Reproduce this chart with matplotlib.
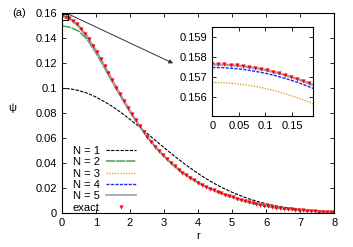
import matplotlib
matplotlib.use("Agg")
import matplotlib.pyplot as plt
from matplotlib.ticker import FuncFormatter
from matplotlib.lines import Line2D
from matplotlib.patches import Rectangle

plt.rcParams['font.family'] = ['Liberation Sans', 'DejaVu Sans']

# ---------------- data ----------------
r_line = [0.0, 0.25, 0.5, 0.75, 1.0, 1.25, 1.5, 1.75, 2.0, 2.25, 2.5, 2.75, 3.0,
          3.25, 3.5, 3.75, 4.0, 4.25, 4.5, 4.75, 5.0, 5.25, 5.5, 5.75, 6.0,
          6.25, 6.5, 6.75, 7.0, 7.25, 7.5, 7.75, 8.0]

psi_N1 = [0.1000, 0.0996, 0.0982, 0.0961, 0.0931, 0.0894, 0.0852, 0.0804, 0.0752,
          0.0697, 0.0640, 0.0583, 0.0526, 0.0470, 0.0417, 0.0366, 0.0319, 0.0275,
          0.0235, 0.0200, 0.0168, 0.0140, 0.0115, 0.0094, 0.0076, 0.0061, 0.0049,
          0.0039, 0.0030, 0.0023, 0.0018, 0.0014, 0.0010]

psi_N2 = [0.1500, 0.1488, 0.1458, 0.1390, 0.1285, 0.1165, 0.1042, 0.0925, 0.0812,
          0.0710, 0.0615, 0.0530, 0.0456, 0.0392, 0.0335, 0.0287, 0.0245, 0.0209,
          0.0179, 0.0153, 0.0130, 0.0108, 0.0088, 0.0072, 0.0059, 0.0047, 0.0038,
          0.0031, 0.0025, 0.0020, 0.0015, 0.0011, 0.0008]

psi_N3 = [0.1567, 0.1548, 0.1492, 0.1406, 0.1299, 0.1179, 0.1055, 0.0934, 0.0818,
          0.0712, 0.0616, 0.0531, 0.0456, 0.0392, 0.0335, 0.0287, 0.0245, 0.0209,
          0.0179, 0.0153, 0.0130, 0.0108, 0.0088, 0.0072, 0.0059, 0.0047, 0.0038,
          0.0031, 0.0025, 0.0020, 0.0015, 0.0011, 0.0008]

psi_N4 = [0.1575, 0.1555, 0.1498, 0.1411, 0.1302, 0.1181, 0.1056, 0.0934, 0.0818,
          0.0712, 0.0616, 0.0531, 0.0456, 0.0392, 0.0335, 0.0287, 0.0245, 0.0209,
          0.0179, 0.0153, 0.0130, 0.0108, 0.0088, 0.0072, 0.0059, 0.0047, 0.0038,
          0.0031, 0.0025, 0.0020, 0.0015, 0.0011, 0.0008]

psi_N5 = [0.1576, 0.1556, 0.1499, 0.1412, 0.1303, 0.1181, 0.1056, 0.0934, 0.0818,
          0.0712, 0.0616, 0.0531, 0.0456, 0.0392, 0.0335, 0.0287, 0.0245, 0.0209,
          0.0179, 0.0153, 0.0130, 0.0108, 0.0088, 0.0072, 0.0059, 0.0047, 0.0038,
          0.0031, 0.0025, 0.0020, 0.0015, 0.0011, 0.0008]

r_exact = [0.0000, 0.1143, 0.2286, 0.3429, 0.4571, 0.5714, 0.6857, 0.8000, 0.9143,
           1.0286, 1.1429, 1.2571, 1.3714, 1.4857, 1.6000, 1.7143, 1.8286, 1.9429,
           2.0571, 2.1714, 2.2857, 2.4000, 2.5143, 2.6286, 2.7429, 2.8571, 2.9714,
           3.0857, 3.2000, 3.3143, 3.4286, 3.5429, 3.6571, 3.7714, 3.8857, 4.0000,
           4.1143, 4.2286, 4.3429, 4.4571, 4.5714, 4.6857, 4.8000, 4.9143, 5.0286,
           5.1429, 5.2571, 5.3714, 5.4857, 5.6000, 5.7143, 5.8286, 5.9429, 6.0571,
           6.1714, 6.2857, 6.4000, 6.5143, 6.6286, 6.7429, 6.8571, 6.9714, 7.0857,
           7.2000, 7.3143, 7.4286, 7.5429, 7.6571, 7.7714, 7.8857, 8.0000]

psi_exact = [0.1576, 0.1572, 0.1560, 0.1539, 0.1512, 0.1477, 0.1437, 0.1391, 0.1342,
             0.1289, 0.1234, 0.1178, 0.1121, 0.1063, 0.1006, 0.0951, 0.0896, 0.0843,
             0.0793, 0.0744, 0.0697, 0.0653, 0.0611, 0.0571, 0.0533, 0.0498, 0.0464,
             0.0433, 0.0404, 0.0376, 0.0350, 0.0326, 0.0304, 0.0283, 0.0263, 0.0245,
             0.0228, 0.0212, 0.0197, 0.0184, 0.0171, 0.0159, 0.0148, 0.0138, 0.0128,
             0.0118, 0.0107, 0.0098, 0.0089, 0.0081, 0.0074, 0.0067, 0.0061, 0.0056,
             0.0051, 0.0046, 0.0042, 0.0038, 0.0034, 0.0031, 0.0028, 0.0025, 0.0023,
             0.0021, 0.0018, 0.0016, 0.0014, 0.0012, 0.0011, 0.0009, 0.0008]

# inset data
r_in_line = [0.0, 0.02, 0.04, 0.06, 0.08, 0.10, 0.12, 0.14, 0.16, 0.18, 0.20]
psi_in_N3 = [0.15672, 0.15671, 0.15667, 0.15661, 0.15653, 0.15642, 0.15629,
             0.15614, 0.15596, 0.15576, 0.15554]
psi_in_N4 = [0.15747, 0.15746, 0.15742, 0.15737, 0.15728, 0.15718, 0.15705,
             0.15690, 0.15673, 0.15653, 0.15631]
psi_in_N5 = [0.15762, 0.15761, 0.15757, 0.15752, 0.15744, 0.15734, 0.15721,
             0.15706, 0.15689, 0.15670, 0.15648]

r_in_exact = [0.0, 0.01143, 0.02286, 0.03429, 0.04571, 0.05714, 0.06857, 0.08,
              0.09143, 0.10286, 0.11429, 0.12571, 0.13714, 0.14857, 0.16,
              0.17143, 0.18286]
psi_in_exact = [0.15763, 0.15763, 0.15762, 0.15760, 0.15757, 0.15754, 0.15750,
                0.15745, 0.15739, 0.15733, 0.15726, 0.15718, 0.15710, 0.15700,
                0.15690, 0.15680, 0.15668]

labels = ["N = 1", "N = 2", "N = 3", "N = 4", "N = 5", "exact"]
xticks_main = [0, 1, 2, 3, 4, 5, 6, 7, 8]
yticks_main = [0, 0.02, 0.04, 0.06, 0.08, 0.1, 0.12, 0.14, 0.16]
xticks_in = [0, 0.05, 0.1, 0.15]
yticks_in = [0.156, 0.157, 0.158, 0.159]
xlim_in = (0.0, 0.19)
ylim_in = (0.15505, 0.1595)

# ---------------- styles ----------------
FS = 8
st = {
    'N1': dict(color='black', lw=0.8, ls=(0, (3, 1.2))),
    'N2': dict(color='#4f9f4f', lw=1.1, ls=(0, (6, 0.6))),
    'N3': dict(color='#d9a330', lw=1.0, ls=(0, (1, 1))),
    'N4': dict(color='#1f1fff', lw=1.0, ls=(0, (2.2, 1))),
    'N5': dict(color='#9ca2ac', lw=1.7, ls='-'),
}
mk = dict(color='red', marker='v', ls='none', ms=3.0, mew=0)

fmt = FuncFormatter(lambda v, p: '%g' % round(v, 6))

fig = plt.figure(figsize=(3.53, 2.47), dpi=100)
ax = fig.add_axes([0.1748, 0.1364, 0.7725, 0.8097])

ax.plot(r_line, psi_N1, **st['N1'])
ax.plot(r_line, psi_N2, **st['N2'])
ax.plot(r_line, psi_N3, **st['N3'])
ax.plot(r_line, psi_N4, **st['N4'])
ax.plot(r_line, psi_N5, **st['N5'])
ax.plot(r_exact, psi_exact, **mk)

ax.set_xlim(0, 8)
ax.set_ylim(0, 0.16)
ax.set_xticks(xticks_main)
ax.set_yticks(yticks_main)
ax.xaxis.set_major_formatter(fmt)
ax.yaxis.set_major_formatter(fmt)
ax.tick_params(direction='in', top=True, right=True, length=3, width=0.6,
               labelsize=FS, pad=3.5)
for s in ax.spines.values():
    s.set_linewidth(0.8)
ax.set_xlabel('r', fontsize=FS, labelpad=2)
ax.set_ylabel('ψ', fontsize=FS, rotation=0, labelpad=0)
ax.yaxis.set_label_coords(-0.183, 0.5)

# zoom rectangle and arrow
ax.add_patch(Rectangle((xlim_in[0], ylim_in[0]), xlim_in[1] - xlim_in[0],
                       ylim_in[1] - ylim_in[0], fill=False, lw=0.7,
                       ec='black', clip_on=False, zorder=5))
ax.annotate('', xy=(3.27, 0.12), xytext=(xlim_in[1], ylim_in[1]),
            arrowprops=dict(arrowstyle='-|>', lw=0.7, color='#333333',
                            mutation_scale=6, shrinkA=0, shrinkB=0))

# legend
handles = [Line2D([], [], **st['N1']), Line2D([], [], **st['N2']),
           Line2D([], [], **st['N3']), Line2D([], [], **st['N4']),
           Line2D([], [], **dict(st['N5'], lw=1.2)), Line2D([], [], **mk)]
ax.legend(handles, labels, loc='upper left', bbox_to_anchor=(0.04, 0.337),
          frameon=False, fontsize=FS, markerfirst=False, handlelength=2.75,
          handletextpad=0.55, labelspacing=0.12, borderpad=0, borderaxespad=0)

fig.text(0.053, 0.946, '(a)', fontsize=FS, ha='center', va='center')

# inset
axi = fig.add_axes([0.6014, 0.5304, 0.2861, 0.3615])
axi.plot(r_in_line, psi_in_N3, **st['N3'])
axi.plot(r_in_line, psi_in_N4, **st['N4'])
axi.plot(r_in_line, psi_in_N5, **st['N5'])
axi.plot(r_in_exact, psi_in_exact, **mk)
axi.set_xlim(*xlim_in)
axi.set_ylim(*ylim_in)
axi.set_xticks(xticks_in)
axi.set_yticks(yticks_in)
axi.xaxis.set_major_formatter(fmt)
axi.yaxis.set_major_formatter(fmt)
axi.tick_params(direction='in', top=True, right=True, length=3, width=0.6,
                labelsize=FS, pad=3.5)
for s in axi.spines.values():
    s.set_linewidth(0.8)

fig.savefig('out.png', dpi=100)
